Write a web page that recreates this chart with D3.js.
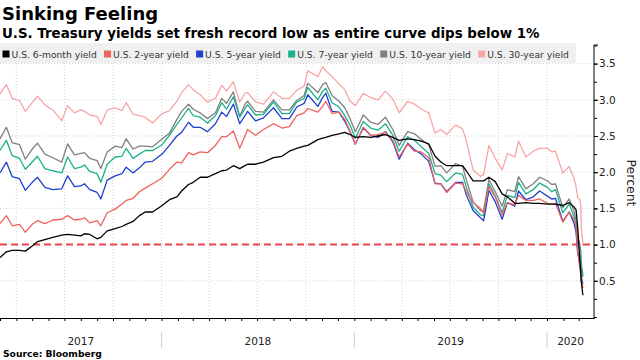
<!DOCTYPE html>
<html><head><meta charset="utf-8">
<script src="https://cdn.jsdelivr.net/npm/d3@7"></script>
<style>body{margin:0;background:#fff}svg{display:block}</style>
</head><body>
<svg id="chart" width="640" height="360"></svg>
<script>
// ---- data ----
const dates = ["2017-03-01","2017-03-13","2017-03-24","2017-04-07","2017-04-18","2017-05-01","2017-05-11","2017-05-25","2017-06-09","2017-06-26",
"2017-07-07","2017-07-20","2017-08-01","2017-08-08","2017-08-18","2017-09-01","2017-09-08","2017-09-20","2017-10-05","2017-10-18",
"2017-10-26","2017-11-08","2017-11-20","2017-12-01","2017-12-15","2018-01-02","2018-01-16","2018-01-30","2018-02-08","2018-02-21",
"2018-03-02","2018-03-15","2018-03-29","2018-04-13","2018-04-25","2018-05-04","2018-05-17","2018-05-29","2018-06-08","2018-06-13",
"2018-06-28","2018-07-13","2018-08-01","2018-08-17","2018-08-31","2018-09-14","2018-09-28","2018-10-05","2018-10-24","2018-11-02",
"2018-11-08","2018-11-20","2018-12-03","2018-12-14","2018-12-24","2019-01-03","2019-01-18","2019-02-01","2019-02-15","2019-03-01",
"2019-03-15","2019-03-27","2019-04-12","2019-04-25","2019-05-08","2019-05-22","2019-06-03","2019-06-14","2019-06-25","2019-07-12",
"2019-07-25","2019-08-01","2019-08-14","2019-08-28","2019-09-03","2019-09-13","2019-09-25","2019-10-08","2019-10-18","2019-11-01",
"2019-11-08","2019-11-22","2019-12-06","2019-12-18","2020-01-02","2020-01-10","2020-01-17","2020-01-31","2020-02-12","2020-02-21",
"2020-02-25","2020-02-28","2020-03-03","2020-03-05","2020-03-06","2020-03-09"];

const sixMonth = [0.82,0.90,0.92,0.92,0.91,0.98,1.04,1.07,1.10,1.13,
1.14,1.13,1.12,1.15,1.14,1.08,1.10,1.19,1.22,1.25,
1.28,1.32,1.40,1.45,1.45,1.54,1.62,1.66,1.74,1.83,
1.86,1.93,1.93,1.98,2.02,2.03,2.09,2.05,2.09,2.11,
2.11,2.14,2.20,2.22,2.29,2.33,2.36,2.37,2.45,2.47,
2.48,2.51,2.53,2.55,2.52,2.48,2.49,2.48,2.50,2.52,
2.48,2.44,2.46,2.45,2.43,2.39,2.22,2.14,2.09,2.09,
2.09,2.02,1.88,1.88,1.88,1.93,1.87,1.70,1.66,1.57,
1.57,1.58,1.57,1.57,1.56,1.56,1.56,1.54,1.58,1.52,
1.48,1.25,0.80,0.60,0.48,0.30];

const twoYear = [1.29,1.40,1.26,1.28,1.17,1.28,1.33,1.29,1.34,1.35,
1.40,1.34,1.35,1.37,1.30,1.33,1.26,1.44,1.49,1.56,
1.61,1.64,1.73,1.78,1.84,1.92,2.04,2.14,2.13,2.27,
2.24,2.28,2.27,2.37,2.49,2.49,2.57,2.33,2.50,2.59,
2.51,2.59,2.67,2.61,2.63,2.78,2.82,2.88,2.83,2.91,
2.98,2.81,2.83,2.73,2.56,2.39,2.62,2.51,2.52,2.55,
2.44,2.21,2.39,2.29,2.28,2.20,1.84,1.84,1.72,1.85,
1.84,1.73,1.58,1.50,1.43,1.80,1.66,1.41,1.58,1.55,
1.68,1.61,1.61,1.63,1.57,1.56,1.57,1.31,1.45,1.35,
1.25,0.91,0.70,0.59,0.50,0.40];

const fiveYear = [1.99,2.14,1.94,1.91,1.75,1.86,1.93,1.79,1.76,1.77,
1.95,1.80,1.81,1.84,1.76,1.72,1.63,1.89,1.95,1.98,
2.07,1.99,2.06,2.14,2.15,2.25,2.37,2.50,2.55,2.69,
2.62,2.62,2.56,2.67,2.83,2.77,2.94,2.67,2.78,2.84,
2.71,2.75,2.89,2.74,2.74,2.90,2.95,3.07,2.91,3.03,
3.09,2.84,2.83,2.70,2.56,2.39,2.61,2.51,2.48,2.56,
2.42,2.18,2.40,2.31,2.25,2.15,1.85,1.84,1.73,1.86,
1.86,1.69,1.47,1.37,1.33,1.75,1.59,1.35,1.58,1.53,
1.74,1.62,1.66,1.74,1.67,1.63,1.64,1.32,1.45,1.30,
1.17,0.89,0.75,0.62,0.55,0.45];

const sevenYear = [2.30,2.44,2.23,2.19,2.04,2.14,2.22,2.05,2.02,1.99,
2.21,2.05,2.07,2.10,2.01,1.98,1.86,2.11,2.21,2.22,
2.33,2.19,2.25,2.30,2.30,2.38,2.51,2.66,2.75,2.88,
2.78,2.76,2.68,2.78,2.96,2.87,3.04,2.76,2.88,2.93,
2.79,2.80,2.97,2.81,2.81,2.97,3.02,3.17,3.00,3.12,
3.16,2.96,2.90,2.78,2.65,2.47,2.70,2.61,2.58,2.67,
2.51,2.29,2.49,2.44,2.35,2.26,1.98,1.96,1.87,1.99,
1.97,1.80,1.52,1.41,1.40,1.84,1.67,1.44,1.68,1.65,
1.86,1.70,1.76,1.85,1.79,1.73,1.76,1.44,1.56,1.39,
1.25,1.06,0.92,0.81,0.67,0.55];

const tenYear = [2.46,2.62,2.41,2.38,2.18,2.32,2.40,2.25,2.20,2.14,
2.39,2.24,2.26,2.27,2.19,2.16,2.05,2.28,2.36,2.34,
2.46,2.32,2.36,2.36,2.35,2.46,2.54,2.73,2.84,2.94,
2.87,2.82,2.74,2.82,3.02,2.95,3.11,2.77,2.94,2.98,
2.84,2.83,3.00,2.86,2.86,2.99,3.06,3.23,3.10,3.21,
3.24,3.06,2.98,2.89,2.74,2.56,2.79,2.69,2.66,2.76,
2.59,2.37,2.56,2.53,2.45,2.38,2.08,2.09,1.99,2.12,
2.08,1.90,1.59,1.47,1.47,1.90,1.73,1.53,1.76,1.73,
1.94,1.77,1.84,1.93,1.88,1.83,1.84,1.51,1.63,1.47,
1.33,1.13,1.00,0.91,0.74,0.58];

const thirtyYear = [3.08,3.21,3.02,2.99,2.84,2.96,3.05,2.93,2.86,2.71,
2.92,2.82,2.86,2.84,2.79,2.77,2.66,2.86,2.89,2.85,
2.96,2.80,2.78,2.76,2.68,2.81,2.85,2.98,3.10,3.21,
3.14,3.07,2.97,3.02,3.20,3.12,3.25,2.97,3.09,3.10,
2.97,2.94,3.11,3.02,3.02,3.13,3.19,3.40,3.32,3.46,
3.40,3.32,3.22,3.14,2.98,2.92,3.09,3.03,3.00,3.12,
3.01,2.82,2.98,2.94,2.87,2.82,2.54,2.59,2.52,2.65,
2.60,2.44,2.03,1.94,1.97,2.37,2.19,2.03,2.26,2.21,
2.43,2.21,2.29,2.33,2.33,2.28,2.29,1.99,2.08,1.92,
1.80,1.65,1.62,1.55,1.22,1.02];

const seriesNames = ["U.S. 6-month yield","U.S. 2-year yield","U.S. 5-year yield","U.S. 7-year yield","U.S. 10-year yield","U.S. 30-year yield"];
const seriesColors = ["#000000","#f0625e","#1f3fcf","#1bb08a","#808080","#f7a6a6"];
const yTickValues = [0.5,1.0,1.5,2.0,2.5,3.0,3.5];
const yearLabels = ["2017","2018","2019","2020"];
const thresholdValue = 1.0;

// ---- chart ----
const svg = d3.select("#chart");
const parse = d3.utcParse("%Y-%m-%d");
const dateObjs = dates.map(parse);
const allSeries = [sixMonth, twoYear, fiveYear, sevenYear, tenYear, thirtyYear];

const plotLeft = 0, plotRight = 594, plotTop = 45, axisY = 318;
const x = d3.scaleUtc().domain([parse("2017-03-01"), parse("2020-03-30")]).range([plotLeft, plotRight]);
const y = d3.scaleLinear().domain([0, 3.75]).range([317, 45.5]);

// title
svg.append("text").attr("x",2).attr("y",20).attr("font-family","DejaVu Sans").attr("font-weight","bold")
  .attr("font-size",18).attr("fill","#000").text("Sinking Feeling");
svg.append("text").attr("x",2).attr("y",38).attr("font-family","DejaVu Sans").attr("font-weight","bold")
  .attr("font-size",13.4).attr("fill","#000").text("U.S. Treasury yields set fresh record low as entire curve dips below 1%");

// grid
const grid = svg.append("g");
const quarters = x.ticks(d3.utcMonth.every(3));
grid.selectAll("line.v").data(quarters).join("line")
  .attr("x1",d=>x(d)).attr("x2",d=>x(d)).attr("y1",plotTop).attr("y2",axisY)
  .attr("stroke","#d4d4d4").attr("stroke-width",1).attr("stroke-dasharray","1,2");
grid.selectAll("line.h").data(yTickValues).join("line")
  .attr("x1",plotLeft).attr("x2",plotRight).attr("y1",d=>y(d)).attr("y2",d=>y(d))
  .attr("stroke","#d4d4d4").attr("stroke-width",1).attr("stroke-dasharray","1,2");

// legend band
svg.append("rect").attr("x",0).attr("y",43).attr("width",576).attr("height",20).attr("fill","#f0f0f0");
const leg = svg.append("g");
let cursor = 2.5;
seriesNames.forEach((name,i)=>{
  leg.append("rect").attr("x",cursor).attr("y",50.5).attr("width",7).attr("height",7).attr("fill",seriesColors[i]);
  const t = leg.append("text").attr("x",cursor+9).attr("y",57.5).attr("font-family","DejaVu Sans")
    .attr("font-size",9.2).attr("fill","#333").text(name);
  cursor = cursor + 9 + t.node().getComputedTextLength() + 7.3;
});

// threshold dashed line
svg.append("line").attr("x1",plotLeft).attr("x2",plotRight).attr("y1",y(thresholdValue)).attr("y2",y(thresholdValue))
  .attr("stroke","#e8474a").attr("stroke-width",2).attr("stroke-dasharray","7,4");

// lines
const line = d3.line().x((d,i)=>x(dateObjs[i])).y(d=>y(d));
const order = [5,4,3,2,1,0];
order.forEach(i=>{
  svg.append("path").datum(allSeries[i]).attr("d",line).attr("fill","none")
    .attr("stroke",seriesColors[i]).attr("stroke-width",1.3).attr("stroke-linejoin","round");
});

// x axis
const xAxis = d3.axisBottom(x).ticks(d3.utcMonth.every(1)).tickSize(3).tickSizeOuter(0).tickFormat("");
const gx = svg.append("g").attr("transform",`translate(0,${axisY})`).call(xAxis);
gx.select(".domain").attr("stroke","#000");
gx.selectAll(".tick line").attr("stroke","#000");

// year separators and labels
const d0 = x.domain()[0], d1 = x.domain()[1];
const yearStarts = x.ticks(d3.utcYear.every(1));
svg.selectAll("line.sep").data(yearStarts).join("line")
  .attr("x1",d=>x(d)).attr("x2",d=>x(d)).attr("y1",332).attr("y2",348)
  .attr("stroke","#cfcfcf").attr("stroke-width",1);
yearLabels.forEach(lbl=>{
  const ys = d3.utcParse("%Y")(lbl), ye = d3.utcYear.offset(ys,1);
  const a = x(ys < d0 ? d0 : ys), b = x(ye > d1 ? d1 : ye);
  svg.append("text").attr("x",(a+b)/2).attr("y",345).attr("text-anchor","middle")
    .attr("font-family","DejaVu Sans").attr("font-size",10.5).attr("fill","#222").text(lbl);
});

// y axis right
const gyMinor = svg.append("g").attr("transform",`translate(${plotRight},0)`)
  .call(d3.axisRight(y).tickValues(d3.range(0,3.76,0.25)).tickSize(3).tickSizeOuter(0).tickFormat(""));
gyMinor.select(".domain").remove();
const gy = svg.append("g").attr("transform",`translate(${plotRight},0)`)
  .call(d3.axisRight(y).tickValues(yTickValues).tickSize(4).tickPadding(1).tickSizeOuter(0).tickFormat(d3.format(".1f")));
gy.select(".domain").remove();
gy.selectAll("text").attr("font-family","DejaVu Sans").attr("font-size",10.5).attr("fill","#222");
svg.append("line").attr("x1",plotRight).attr("x2",plotRight).attr("y1",plotTop).attr("y2",axisY+0.5).attr("stroke","#000");
svg.append("line").attr("x1",plotRight).attr("x2",plotRight+4).attr("y1",plotTop).attr("y2",plotTop).attr("stroke","#000");
svg.selectAll(".tick line").attr("stroke","#000");

svg.append("text").attr("transform","translate(627,183) rotate(90)").attr("text-anchor","middle")
  .attr("font-family","DejaVu Sans").attr("font-size",12.5).attr("fill","#222").text("Percent");

svg.append("text").attr("x",3).attr("y",357).attr("font-family","DejaVu Sans").attr("font-weight","bold")
  .attr("font-size",9.2).attr("fill","#000").text("Source:  Bloomberg");
</script>
</body></html>
